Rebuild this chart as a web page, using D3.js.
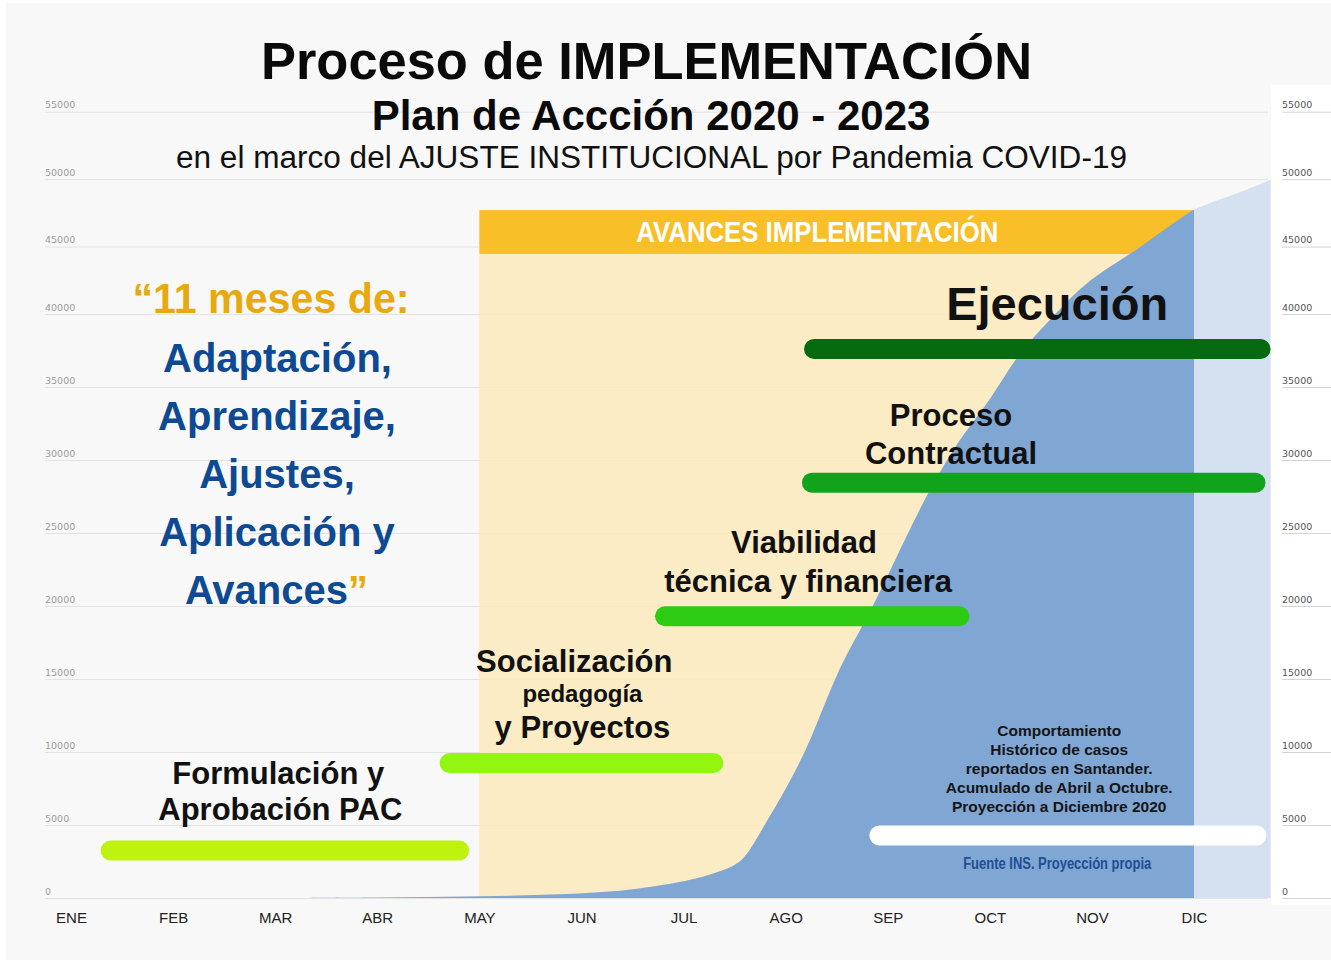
<!DOCTYPE html>
<html lang="es">
<head>
<meta charset="utf-8">
<title>Proceso de IMPLEMENTACIÓN</title>
<script src="https://cdn.jsdelivr.net/npm/d3@7"></script>
<style>
  body { margin: 0; background: #ffffff; }
  svg { display: block; font-family: "Liberation Sans", Arial, sans-serif; }
</style>
</head>
<body>
<svg id="chart"></svg>
<script>
// ---- datos ----
const meses = ['ENE', 'FEB', 'MAR', 'ABR', 'MAY', 'JUN', 'JUL', 'AGO', 'SEP', 'OCT', 'NOV', 'DIC'];
const ticksCasos = [0, 5000, 10000, 15000, 20000, 25000, 30000, 35000, 40000, 45000, 50000, 55000];

// casos acumulados Santander (mes en fraccion, 0 = ENE)
const curvaMes = [2, 3, 4, 5, 5.5, 6, 6.25, 6.5, 6.62, 6.75, 7, 7.25, 7.5, 7.75, 8, 8.25, 8.5, 8.75, 9, 9.25, 9.5, 9.75, 10, 10.25, 10.5, 10.75, 11];
const curvaCasos = [0, 30, 100, 270, 550, 1100, 1575, 2150, 2900, 4500, 7400, 10800, 15500, 18550, 22050, 25800, 29100, 31900, 34050, 37000, 38950, 40900, 42670, 43850, 45100, 46500, 47750];
// proyeccion a diciembre
const proyMes = [11, 11.25, 11.5, 11.75];
const proyCasos = [47750, 48500, 49150, 49970];

// fases del plan (inicio / fin en meses, nivel en el eje de casos)
const fases = ['Formulación', 'Socialización', 'Viabilidad', 'Contractual', 'Ejecución', 'Histórico'];
const faseInicio = [0.29, 3.61, 5.72, 7.16, 7.18, 7.82];
const faseFin = [3.9, 6.39, 8.8, 11.7, 11.75, 11.71];
const faseNivel = [3250, 9250, 19300, 28450, 37600, 4280];
const faseColor = ['#bdf30e', '#93f611', '#2ecb15', '#12a31c', '#066b10', '#ffffff'];

// bloque "avances implementacion"
const avanceMes = [4, 11];
const avanceTope = 47700;
const avanceFranja = 44450;

// ---- dibujo ----
const W = 1331, H = 960;
const svg = d3.select('#chart').attr('width', W).attr('height', H);

const x = d3.scaleLinear().domain([0, 11]).range([71, 1194]);
const y = d3.scaleLinear().domain([0, 40000, 55000]).range([898, 314, 111.7]);

svg.append('rect').attr('x', 6).attr('y', 3).attr('width', W - 6).attr('height', H - 3).attr('fill', '#f8f8f8');
// panel del eje derecho
svg.append('rect').attr('x', 1271).attr('y', 85).attr('width', 60).attr('height', 820).attr('fill', '#ffffff');

// eje izquierdo + lineas guia
const yAxisL = svg.append('g').attr('transform', 'translate(45,0)')
  .call(d3.axisRight(y).tickValues(ticksCasos).tickSize(1223).tickFormat(d3.format('d')));
yAxisL.select('.domain').remove();
yAxisL.selectAll('line').attr('stroke', '#e2e2e2');
yAxisL.selectAll('text')
  .attr('x', 0).attr('y', -4).attr('dy', 0)
  .attr('text-anchor', 'start')
  .attr('fill', '#9b9b9b')
  .attr('font-family', '"DejaVu Sans", sans-serif')
  .attr('font-size', 9.5);

// eje derecho
const yAxisR = svg.append('g').attr('transform', 'translate(1282,0)')
  .call(d3.axisRight(y).tickValues(ticksCasos).tickSize(49).tickFormat(d3.format('d')));
yAxisR.select('.domain').remove();
yAxisR.selectAll('line').attr('stroke', '#d4d4d4');
yAxisR.selectAll('text')
  .attr('x', 0).attr('y', -4).attr('dy', 0)
  .attr('text-anchor', 'start')
  .attr('fill', '#555')
  .attr('font-family', '"DejaVu Sans", sans-serif')
  .attr('font-size', 9.5);

// eje de meses
const xAxis = svg.append('g').attr('transform', 'translate(0,898)')
  .call(d3.axisBottom(x).tickValues(d3.range(12)).tickSize(0).tickFormat(i => meses[i]));
xAxis.select('.domain').remove();
xAxis.selectAll('text')
  .attr('y', 25).attr('dy', 0)
  .attr('fill', '#222')
  .attr('font-family', '"Liberation Sans", Arial, sans-serif')
  .attr('font-size', 15);

// fondo beige + franja naranja
svg.append('rect')
  .attr('x', x(avanceMes[0])).attr('y', y(avanceTope))
  .attr('width', x(avanceMes[1]) - x(avanceMes[0]))
  .attr('height', y(0) - y(avanceTope))
  .attr('fill', '#fce9bd').attr('fill-opacity', 0.88);
svg.append('rect')
  .attr('x', x(avanceMes[0])).attr('y', y(avanceTope))
  .attr('width', x(avanceMes[1]) - x(avanceMes[0]))
  .attr('height', y(avanceFranja) - y(avanceTope))
  .attr('fill', '#f9bf29');
svg.append('text')
  .attr('x', x(avanceMes[0]) + 338)
  .attr('y', y(avanceTope) + 32)
  .attr('text-anchor', 'middle')
  .attr('font-size', 30).attr('font-weight', 'bold')
  .attr('fill', '#ffffff')
  .attr('textLength', 362).attr('lengthAdjust', 'spacingAndGlyphs')
  .text('AVANCES IMPLEMENTACIÓN');

// area de casos acumulados
const curva = curvaMes.map((m, i) => ({ m: m, v: curvaCasos[i] }));
const proy = proyMes.map((m, i) => ({ m: m, v: proyCasos[i] }));
const area = d3.area().x(d => x(d.m)).y0(y(0)).y1(d => y(d.v)).curve(d3.curveBasis);

svg.append('path').datum(proy).attr('d', area).attr('fill', '#d5e0f1');
svg.append('path').datum(curva).attr('d', area).attr('fill', '#80a6d4');

// barras de fases
svg.selectAll('rect.fase')
  .data(fases)
  .join('rect')
  .attr('class', 'fase')
  .attr('x', (d, i) => x(faseInicio[i]))
  .attr('y', (d, i) => y(faseNivel[i]) - 10)
  .attr('width', (d, i) => x(faseFin[i]) - x(faseInicio[i]))
  .attr('height', 20)
  .attr('rx', 10)
  .attr('fill', (d, i) => faseColor[i]);

function texto(cx, cy, str, size, opts = {}) {
  const t = svg.append('text')
    .attr('x', cx).attr('y', cy)
    .attr('text-anchor', 'middle')
    .attr('font-size', size)
    .attr('font-weight', opts.weight || 'bold')
    .attr('fill', opts.fill || '#111')
    .text(str);
  if (opts.len) t.attr('textLength', opts.len).attr('lengthAdjust', 'spacingAndGlyphs');
  return t;
}

// etiquetas de fases
texto(x(2.03), y(faseNivel[0]) - 67, 'Formulación y', 31);
texto(x(2.05), y(faseNivel[0]) - 31, 'Aprobación PAC', 31);
texto(x(4.93), y(faseNivel[1]) - 91, 'Socialización', 31);
texto(x(5.01), y(faseNivel[1]) - 61, 'pedagogía', 24);
texto(x(5.01), y(faseNivel[1]) - 25, 'y Proyectos', 31);
texto(x(7.18), y(faseNivel[2]) - 63, 'Viabilidad', 31);
texto(x(7.22), y(faseNivel[2]) - 24, 'técnica y financiera', 31);
texto(x(8.62), y(faseNivel[3]) - 57, 'Proceso', 31);
texto(x(8.62), y(faseNivel[3]) - 19, 'Contractual', 31);
texto(x(9.66), y(faseNivel[4]) - 29, 'Ejecución', 47);

const nota = ['Comportamiento', 'Histórico de casos', 'reportados en Santander.',
  'Acumulado de Abril a Octubre.', 'Proyección a Diciembre 2020'];
nota.forEach((s, i) => texto(x(9.68), y(faseNivel[5]) - 100 + i * 19, s, 15.5, { fill: '#151515' }));
texto(x(9.66), y(faseNivel[5]) + 33, 'Fuente INS. Proyección propia', 16, { fill: '#1d4f91', len: 188 });

// bloque izquierdo
texto(271, 313, '“11 meses de:', 42, { fill: '#e8a90c', len: 277 });
const azul = '#0d4a93';
texto(277.5, 372, 'Adaptación,', 40, { fill: azul });
texto(277, 430, 'Aprendizaje,', 40, { fill: azul });
texto(277, 488, 'Ajustes,', 40, { fill: azul });
texto(277, 546, 'Aplicación y', 40, { fill: azul });
const ult = texto(276.5, 604, '', 40, { fill: azul });
ult.append('tspan').text('Avances');
ult.append('tspan').attr('fill', '#e8a90c').text('”');

// titulos
texto(646.5, 79, 'Proceso de IMPLEMENTACIÓN', 51, { fill: '#0a0a0a', len: 771 });
texto(651, 130, 'Plan de Accción 2020 - 2023', 42, { fill: '#0a0a0a' });
texto(651.5, 168, 'en el marco del AJUSTE INSTITUCIONAL por Pandemia COVID-19', 31, { fill: '#111', weight: 'normal', len: 951 });
</script>
</body>
</html>
